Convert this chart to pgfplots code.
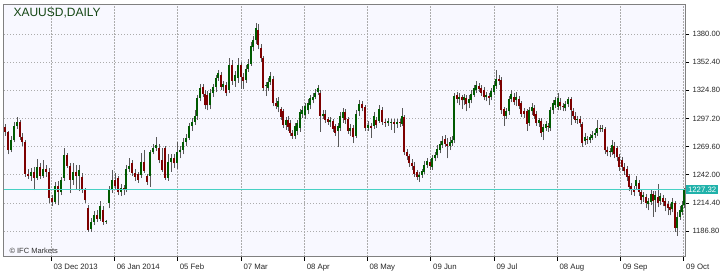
\documentclass[border=0pt]{standalone}
\usepackage{pgfplots}
\pgfplotsset{compat=1.18}
\usepackage{pgfplotstable}
\usepackage{fontspec}
\setmainfont{Liberation Sans}
\definecolor{plotbg}{RGB}{248,248,255}
\definecolor{bull}{RGB}{0,90,0}
\definecolor{bear}{RGB}{125,0,0}
\definecolor{bidline}{RGB}{72,209,196}
\definecolor{bidbox}{RGB}{32,178,170}
\definecolor{titlegreen}{RGB}{20,70,20}
\pgfplotstableread{
x O H L C
5 1289 1292 1280 1284
8 1284 1285 1262 1266
11 1266 1280 1264 1276
14 1276 1294 1274 1290
17 1290 1299 1287 1294
20 1294 1296 1276 1279
22 1279 1283 1270 1274
25 1274 1276 1240 1243
28 1243 1248 1238 1241
31 1241 1249 1236 1245
34 1245 1250 1227 1239
37 1239 1257 1237 1250
40 1250 1253 1238 1241
43 1241 1256 1239 1248
46 1248 1252 1240 1245
49 1245 1249 1214 1219
52 1219 1222 1211 1215
55 1215 1235 1213 1231
58 1231 1236 1212 1225
61 1225 1240 1222 1237
64 1239 1268 1236 1261
67 1261 1263 1249 1251
70 1251 1253 1224 1237
73 1237 1253 1232 1245
76 1245 1252 1228 1241
79 1241 1252 1226 1247
82 1240 1244 1224 1227
85 1227 1229 1214 1217
88 1209 1212 1186 1188
91 1189 1200 1186 1196
94 1196 1206 1193 1202
97 1202 1207 1196 1199
100 1199 1216 1197 1211
103 1207 1211 1193 1196
106 1196 1198 1194 1196.8
109 1214 1231 1209 1227
112 1227 1247 1224 1237
115 1237 1244 1228 1231
118 1239 1241 1222 1225
121 1225 1233 1221 1229
124 1229 1232 1222 1227
126 1227 1252 1225 1248
129 1248 1258 1245 1251
132 1253 1256 1241 1244
135 1244 1248 1236 1240
138 1243 1245 1234 1237
141 1242 1263 1239 1254
144 1254 1266 1244 1246
147 1241 1243 1232 1235
150 1241 1266 1230 1264
153 1264 1272 1262 1268
156 1268 1279 1265 1271
159 1268 1272 1253 1256
162 1256 1268 1245 1247
165 1268 1270 1237 1239
168 1239 1262 1236 1254
171 1254 1262 1245 1258
174 1258 1262 1249 1253
177 1253 1274 1248 1264
180 1264 1270 1258 1266
183 1266 1278 1262 1274
186 1274 1282 1270 1278
189 1278 1293 1276 1290
192 1290 1298 1285 1294
195 1294 1305 1291 1300
197 1300 1320 1296 1317
200 1317 1331 1314 1327
203 1328 1331 1318 1321
205 1321 1325 1306 1310
207 1320 1324 1305 1310
210 1310 1326 1306 1322
213 1322 1331 1318 1328
216 1328 1340 1323 1337
218 1337 1345 1334 1342
221 1340 1343 1325 1328
223 1328 1334 1324 1331
226 1330 1333 1319 1322
229 1325 1356 1322 1350
232 1350 1354 1330 1334
235 1334 1344 1328 1340
238 1337 1356 1332 1350
241 1350 1353 1326 1338
243 1338 1342 1326 1334
246 1335 1350 1332 1346
248 1346 1355 1343 1351
251 1351 1372 1349 1368
253 1367 1378 1363 1374
256 1374 1391 1370 1386
258 1384 1390 1365 1369
261 1366 1370 1353 1356
263 1356 1358 1324 1327
266 1329 1333 1319 1330
268 1327 1337 1324 1333
270 1333 1343 1330 1339
273 1336 1339 1309 1312
276 1312 1317 1306 1309
278 1308 1318 1303 1314
281 1306 1308 1296 1299
283 1304 1306 1288 1291
286 1291 1299 1286 1296
288 1296 1300 1285 1289
290 1293 1296 1280 1283
292 1283 1286 1277 1280
295 1280 1293 1277 1290
297 1285 1296 1281 1293
300 1288 1306 1284 1303
302 1302 1309 1298 1305
305 1301 1312 1297 1309
308 1305 1316 1302 1312
310 1310 1320 1306 1317
313 1315 1322 1312 1318
315 1318 1326 1316 1322
318 1323 1330 1320 1327
320 1322 1325 1284 1300
323 1300 1305 1297 1302
325 1302 1305 1293 1296
328 1297 1299 1291 1294
330 1294 1299 1289 1296
333 1295 1297 1284 1287
335 1290 1292 1280 1283
338 1285 1293 1269 1290
340 1288 1303 1285 1300
343 1298 1307 1293 1303
345 1303 1306 1292 1296
348 1297 1299 1282 1285
350 1285 1292 1280 1288
353 1288 1291 1273 1279
356 1280 1305 1278 1302
359 1304 1315 1300 1311
362 1311 1314 1304 1307
365 1308 1310 1285 1288
368 1288 1295 1285 1291
371 1290 1293 1278 1288
374 1290 1303 1287 1300
376 1296 1299 1288 1291
379 1295 1310 1293 1306
382 1305 1308 1291 1294
385 1294 1297 1289 1293
388 1293 1298 1290 1295
391 1293 1297 1286 1294
394 1294 1297 1283 1292
397 1292 1297 1288 1294
400 1294 1297 1289 1293
402 1292 1307 1290 1300
404 1299 1301 1261 1264
407 1264 1267 1256 1260
409 1260 1262 1250 1253
412 1253 1257 1247 1251
414 1251 1254 1240 1243
417 1245 1247 1237 1240
419 1240 1245 1235 1242
422 1242 1248 1239 1246
424 1245 1255 1243 1252
427 1252 1258 1249 1255
430 1254 1257 1247 1251
432 1250 1261 1247 1258
435 1258 1264 1255 1261
437 1261 1271 1258 1267
440 1266 1275 1263 1272
442 1271 1280 1268 1275
445 1277 1281 1269 1272
447 1272 1278 1258 1270
450 1270 1279 1266 1274
452 1273 1280 1270 1276
454 1276 1322 1273 1319
457 1320 1323 1312 1316
459 1316 1322 1310 1318
462 1318 1320 1306 1315
464 1315 1321 1310 1318
466 1317 1320 1304 1311
469 1312 1320 1307 1316
471 1315 1325 1312 1321
474 1320 1330 1318 1327
476 1325 1334 1322 1330
479 1329 1332 1323 1326
481 1327 1330 1319 1322
484 1325 1328 1315 1318
486 1318 1323 1314 1320
489 1319 1322 1310 1317
491 1318 1327 1315 1324
494 1323 1334 1320 1330
496 1329 1345 1326 1336
499 1336 1340 1330 1334
501 1335 1338 1302 1305
504 1306 1308 1290 1300
506 1300 1307 1297 1304
509 1304 1319 1301 1316
511 1316 1325 1313 1321
514 1318 1322 1310 1313
516 1315 1323 1309 1318
519 1316 1319 1306 1309
521 1312 1314 1299 1302
524 1304 1307 1298 1302
527 1304 1306 1285 1292
529 1293 1308 1290 1305
532 1304 1312 1301 1308
534 1307 1310 1297 1300
536 1302 1304 1290 1293
539 1293 1298 1289 1296
541 1295 1298 1279 1283
543 1284 1292 1276 1289
546 1288 1295 1285 1292
548 1290 1293 1284 1289
550 1288 1308 1285 1305
553 1305 1315 1302 1312
555 1310 1318 1307 1315
558 1308 1322 1305 1317
560 1313 1317 1305 1309
563 1309 1312 1304 1308
565 1307 1314 1304 1311
568 1311 1318 1308 1316
571 1316 1318 1291 1305
573 1304 1307 1297 1300
575 1300 1303 1293 1296
577 1296 1300 1292 1297
580 1297 1300 1289 1293
582 1292 1294 1269 1273
585 1275 1283 1271 1279
587 1277 1280 1272 1276
590 1276 1282 1273 1279
592 1278 1285 1276 1281
595 1281 1287 1278 1283
597 1283 1296 1280 1288
600 1288 1291 1284 1287
602 1287 1291 1284 1288
605 1287 1289 1262 1266
607 1266 1269 1260 1264
610 1264 1268 1259 1265
612 1264 1276 1261 1271
614 1270 1274 1258 1262
617 1268 1270 1255 1259
619 1259 1262 1246 1250
622 1256 1259 1246 1250
624 1250 1253 1242 1246
627 1248 1251 1236 1240
629 1241 1243 1226 1230
631 1231 1234 1222 1227
634 1228 1231 1221 1225
636 1231 1241 1227 1237
639 1234 1237 1221 1225
641 1225 1228 1213 1217
643 1220 1225 1215 1222
646 1220 1223 1209 1214
648 1213 1219 1207 1216
651 1215 1228 1212 1223
653 1223 1226 1201 1216
655 1217 1226 1205 1222
658 1220 1233 1210 1214
660 1216 1224 1212 1221
663 1219 1222 1211 1215
665 1216 1219 1206 1211
668 1213 1216 1202 1209
670 1210 1213 1202 1207
672 1208 1219 1205 1215
675 1214 1216 1186 1190
677 1190 1205 1182 1201
680 1201 1211 1198 1207
682 1205 1216 1202 1212
684 1212 1229 1209 1227.32
}\gold
\begin{document}
\begin{tikzpicture}
\useasboundingbox (0,0) rectangle (725pt,272pt);
\begin{axis}[
  at={(4pt,15.3pt)}, anchor=south west,
  scale only axis, width=681pt, height=252.4pt,
  xmin=4, xmax=685, ymin=1161.6, ymax=1409.1,
  axis background/.style={fill=plotbg},
  axis line style={draw=gray, line width=1pt},
  grid=major,
  major grid style={draw=gray!65, line width=0.6pt, dash pattern=on 1.2pt off 1.8pt},
  tick align=outside, major tick length=4pt,
  tick style={draw=black, line width=0.6pt},
  xtick pos=bottom, ytick pos=right,
  yticklabel pos=right,
  xtick={51,114.3,177.3,241,304.3,367,430.7,494,557,620.3,683.7},
  xticklabels={03 Dec 2013,06 Jan 2014,05 Feb,07 Mar,08 Apr,08 May,09 Jun,09 Jul,08 Aug,09 Sep,09 Oct},
  ytick={1186.8,1214.4,1242,1269.6,1297.2,1324.8,1352.4,1380},
  yticklabels={1186.80,1214.40,1242.00,1269.60,1297.20,1324.80,1352.40,1380.00},
  xticklabel style={font=\fontsize{7.8}{9}\selectfont, text=black!85, anchor=north west, xshift=-1pt},
  yticklabel style={font=\fontsize{7.6}{9}\selectfont, text=black!85, anchor=west},
  clip mode=individual,
]
\addplot[draw=none, mark=none, forget plot,
  error bars/.cd, y dir=plus, y explicit, error mark=none,
  error bar style={draw=black!65, line width=0.75pt, solid}]
  table[x=x, y=L, y error plus expr=\thisrow{H}-\thisrow{L}] {\gold};
\addplot[draw=none, mark=none, forget plot,
  restrict expr to domain={\thisrow{C}-\thisrow{O}}{0:1000},
  error bars/.cd, y dir=plus, y explicit, error mark=none,
  error bar style={draw=bull, line width=1.8pt, solid}]
  table[x=x, y=O, y error plus expr=\thisrow{C}-\thisrow{O}] {\gold};
\addplot[draw=none, mark=none, forget plot,
  restrict expr to domain={\thisrow{O}-\thisrow{C}}{0.001:1000},
  error bars/.cd, y dir=plus, y explicit, error mark=none,
  error bar style={draw=bear, line width=1.8pt, solid}]
  table[x=x, y=C, y error plus expr=\thisrow{O}-\thisrow{C}] {\gold};
\addplot[draw=bidline, line width=1.3pt, mark=none, forget plot] table[x=x, y=y] {
x y
4 1227.32
685 1227.32
};
\node[fill=bidbox, text=white, anchor=west, inner xsep=1.8pt, inner ysep=1.8pt, font=\fontsize{7.8}{9}\selectfont] at (axis cs:686,1227.32) {1227.32};
\end{axis}
\node[anchor=west, text=titlegreen, font=\fontsize{12}{14}\selectfont] at (10pt,259pt) {XAUUSD,DAILY};
\node[anchor=west, text=black!80, font=\fontsize{7.5}{9}\selectfont] at (6pt,21pt) {© IFC Markets};
\end{tikzpicture}
\end{document}
